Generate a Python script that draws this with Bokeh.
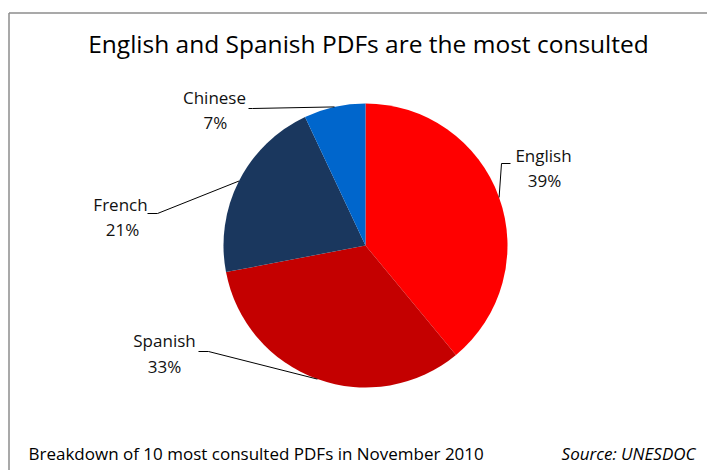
import math
from bokeh.plotting import figure
from bokeh.models import Range1d, ColumnDataSource
from bokeh.core.properties import value
from bokeh.embed import file_html
from bokeh.resources import INLINE

# ---- data ----
languages = ["English", "Spanish", "French", "Chinese"]
shares = [39, 33, 21, 7]
colors = ["#FF0000", "#C40000", "#1A375E", "#0066CC"]
title_text = "English and Spanish PDFs are the most consulted"
footer_text = "Breakdown of 10 most consulted PDFs in November 2010"
source_text = "Source: UNESDOC"

# ---- layout (page pixel coords; data y = 470 - page y) ----
W, H = 707, 470
FONT = "Open Sans"
cx, cy_page, R = 365, 245, 142
cy = 470 - cy_page

def Y(py):
    return 470 - py

p = figure(width=W, height=H, output_backend="svg", toolbar_location=None,
           x_range=Range1d(0, W), y_range=Range1d(470 - H, 470),
           min_border=0, outline_line_color=None)
p.axis.visible = False
p.grid.visible = False
p.background_fill_color = "white"
p.border_fill_color = "white"

# frame lines
p.segment(x0=[8.5, 8.5], y0=[Y(12.5), Y(12.5)], x1=[8.5, 707], y1=[Y(470), Y(12.5)],
          line_color="#8C8C8C", line_width=1.5)

total = float(sum(shares))
starts, ends, mids = [], [], []
cum = 0.0
for v in shares:
    a0 = math.pi / 2 - 2 * math.pi * cum / total
    a1 = math.pi / 2 - 2 * math.pi * (cum + v) / total
    am = math.pi / 2 - 2 * math.pi * (cum + v / 2) / total
    starts.append(a0); ends.append(a1); mids.append(am)
    cum += v

src = ColumnDataSource(dict(start=starts, end=ends, color=colors,
                            x=[cx] * len(shares), y=[cy] * len(shares)))
p.wedge(x="x", y="y", radius=R, start_angle="start", end_angle="end",
        direction="clock", fill_color="color", line_color=None, source=src)

# label anchors (page coords): name center, pct center, leader start, leader elbow
label_pos = {
    "English": ((543, 155), (544, 180), (510, 163), (501, 163)),
    "Spanish": ((164, 340), (164, 366), (198, 351), (208, 351)),
    "French": ((120, 204), (122, 229), (147, 213), (157, 213)),
    "Chinese": ((214, 97), (215, 122), (248, 108), (252, 108)),
}

for lang, v, am in zip(languages, shares, mids):
    (nx, ny), (qx, qy), (sx, sy), (ex, ey) = label_pos[lang]
    px = cx + R * math.cos(am)
    py = cy + R * math.sin(am)
    p.line(x=[sx, ex, px], y=[Y(sy), Y(ey), py], line_color="black", line_width=1)
    p.text(x=[nx], y=[Y(ny)], text=[lang], text_font=value(FONT), text_font_size="17px",
           text_align="center", text_baseline="middle", text_color="#111111")
    p.text(x=[qx], y=[Y(qy)], text=[f"{v}%"], text_font=value(FONT), text_font_size="17px",
           text_align="center", text_baseline="middle", text_color="#111111")

p.text(x=[368], y=[Y(43)], text=[title_text], text_font=value(FONT), text_font_size="24.5px",
       text_align="center", text_baseline="middle", text_color="black")
p.text(x=[28], y=[Y(453)], text=[footer_text], text_font=value(FONT), text_font_size="17px",
       text_align="left", text_baseline="middle", text_color="black")
p.text(x=[695], y=[Y(453)], text=[source_text], text_font=value(FONT), text_font_size="17px",
       text_font_style="italic", text_align="right", text_baseline="middle", text_color="black")

open("out.html", "w").write(file_html(p, INLINE))
